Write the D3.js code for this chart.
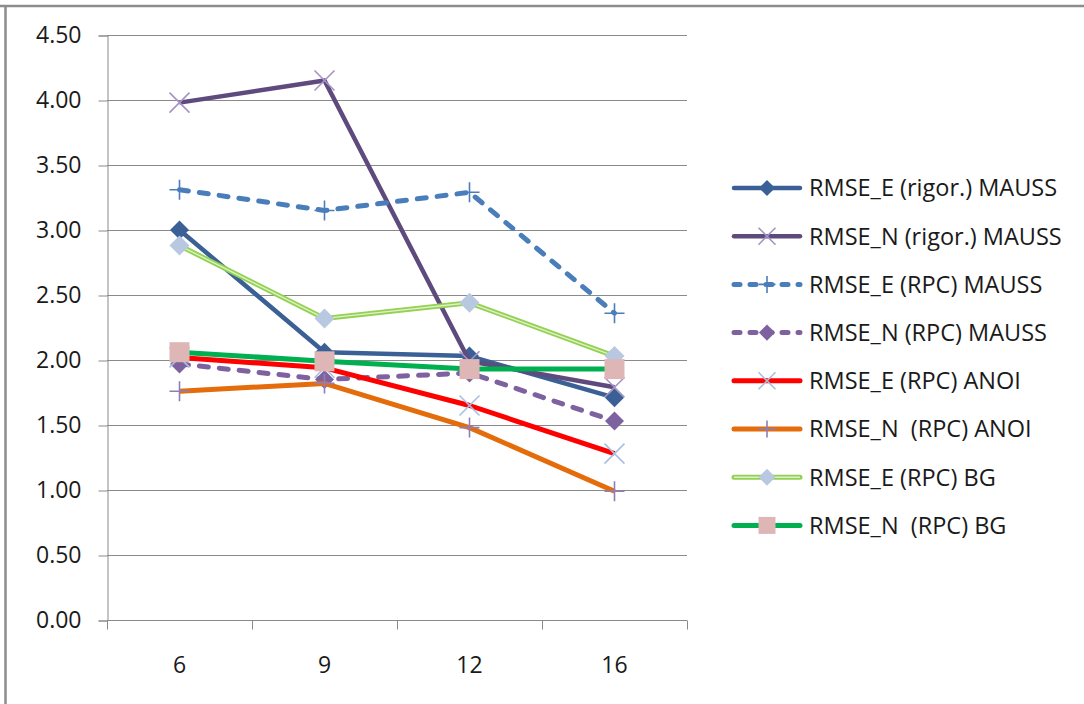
<!DOCTYPE html>
<html>
<head>
<meta charset="utf-8">
<script src="https://cdn.jsdelivr.net/npm/d3@7"></script>
<style>
  html, body { margin: 0; padding: 0; background: #fff; }
  svg text { font-family: "Open Sans", Lato, sans-serif; fill: #1a1a1a; white-space: pre; }
</style>
</head>
<body>
<svg id="chart" width="1084" height="704"></svg>
<script>
// Window sizes along the x axis
const categories = ["6", "9", "12", "16"];

// RMSE values per series
const rmseERigorMauss = [3.00, 2.06, 2.03, 1.71];
const rmseNRigorMauss = [3.98, 4.15, 1.99, 1.79];
const rmseERpcMauss   = [3.31, 3.15, 3.29, 2.36];
const rmseNRpcMauss   = [1.97, 1.85, 1.90, 1.53];
const rmseERpcAnoi    = [2.02, 1.94, 1.65, 1.28];
const rmseNRpcAnoi    = [1.76, 1.82, 1.48, 0.99];
const rmseERpcBg      = [2.88, 2.32, 2.44, 2.03];
const rmseNRpcBg      = [2.06, 1.99, 1.93, 1.93];

const seriesNames = [
  "RMSE_E (rigor.) MAUSS",
  "RMSE_N (rigor.) MAUSS",
  "RMSE_E (RPC) MAUSS",
  "RMSE_N (RPC) MAUSS",
  "RMSE_E (RPC) ANOI",
  "RMSE_N  (RPC) ANOI",
  "RMSE_E (RPC) BG",
  "RMSE_N  (RPC) BG"
];

const yTicks = [0, 0.5, 1, 1.5, 2, 2.5, 3, 3.5, 4, 4.5];

// Line and marker styling per series
const styles = [
  { color: "#3b6095", width: 4.5, dash: null, marker: "diamond", mColor: "#3b6095", mSize: 19 },
  { color: "#5f4a7d", width: 4.5, dash: null, marker: "x", mColor: "#a593c4", mSize: 20 },
  { color: "#4a7ebb", width: 5, dash: "9,11", marker: "plus", mColor: "#4a7ebb", mSize: 20 },
  { color: "#7e62a0", width: 5, dash: "9,11", marker: "diamond", mColor: "#7e62a0", mSize: 19 },
  { color: "#ff0000", width: 5, dash: null, marker: "x", mColor: "#a9bfe0", mSize: 20 },
  { color: "#e46c0a", width: 5, dash: null, marker: "plus", mColor: "#8f7db8", mSize: 20 },
  { color: "#93d152", width: 5, dash: null, double: true, marker: "diamond", mColor: "#b8c8e0", mSize: 20 },
  { color: "#00b050", width: 5, dash: null, marker: "square", mColor: "#ddb6b5", mSize: 20 }
];

const seriesValues = [
  rmseERigorMauss, rmseNRigorMauss, rmseERpcMauss, rmseNRpcMauss,
  rmseERpcAnoi, rmseNRpcAnoi, rmseERpcBg, rmseNRpcBg
];

const svg = d3.select("#chart");

// Frame edges of the chart area
svg.append("line").attr("x1", 0).attr("x2", 1084).attr("y1", 6).attr("y2", 6)
  .attr("stroke", "#8c8c8c").attr("stroke-width", 2.5);
svg.append("line").attr("x1", 5.5).attr("x2", 5.5).attr("y1", 5).attr("y2", 704)
  .attr("stroke", "#8c8c8c").attr("stroke-width", 2.5);

const plot = { left: 107, right: 687, top: 35, bottom: 620 };

const x = d3.scaleBand().domain(categories).range([plot.left, plot.right]);
const y = d3.scaleLinear().domain([0, 4.5]).range([plot.bottom, plot.top]);

// Horizontal gridlines
svg.append("g")
  .selectAll("line")
  .data(yTicks)
  .join("line")
  .attr("x1", plot.left).attr("x2", plot.right)
  .attr("y1", d => Math.round(y(d)) + 0.5).attr("y2", d => Math.round(y(d)) + 0.5)
  .attr("stroke", "#8a8a8a").attr("stroke-width", 1);

// Y axis
const yAxis = svg.append("g")
  .attr("transform", `translate(${plot.left + 0.5},0.5)`)
  .call(d3.axisLeft(y).tickValues(yTicks).tickFormat(d3.format(".2f")).tickSize(9).tickPadding(17));
yAxis.select(".domain").attr("stroke", "#8a8a8a");
yAxis.selectAll(".tick line").attr("stroke", "#8a8a8a");
yAxis.selectAll(".tick text").style("font-size", "23px").attr("fill", "#1a1a1a");

// X axis with ticks on band boundaries
const xAxisG = svg.append("g").attr("transform", `translate(0,${plot.bottom + 0.5})`);
xAxisG.append("line")
  .attr("x1", plot.left).attr("x2", plot.right).attr("y1", 0).attr("y2", 0)
  .attr("stroke", "#8a8a8a");
const boundaries = categories.map(c => x(c)).concat([x(categories[categories.length - 1]) + x.bandwidth()]);
xAxisG.selectAll("line.b")
  .data(boundaries)
  .join("line")
  .attr("class", "b")
  .attr("x1", d => Math.round(d) + 0.5).attr("x2", d => Math.round(d) + 0.5)
  .attr("y1", 0).attr("y2", 9)
  .attr("stroke", "#8a8a8a");
xAxisG.selectAll("text")
  .data(categories)
  .join("text")
  .attr("x", d => x(d) + x.bandwidth() / 2)
  .attr("y", 52)
  .attr("text-anchor", "middle")
  .style("font-size", "23px")
  .text(d => d);

const cx = d => x(d) + x.bandwidth() / 2;

function markerPath(type, s) {
  const h = s / 2;
  if (type === "diamond") return `M0,${-h}L${h},0L0,${h}L${-h},0Z`;
  if (type === "square") return `M${-h},${-h}H${h}V${h}H${-h}Z`;
  if (type === "x") return `M${-h},${-h}L${h},${h}M${-h},${h}L${h},${-h}`;
  if (type === "plus") return `M${-h},0H${h}M0,${-h}V${h}`;
  return "";
}

function drawMarker(g, st, px, py) {
  const filled = st.marker === "diamond" || st.marker === "square";
  g.append("path")
    .attr("transform", `translate(${px},${py})`)
    .attr("d", markerPath(st.marker, st.mSize))
    .attr("fill", filled ? st.mColor : "none")
    .attr("stroke", st.mColor)
    .attr("stroke-width", filled ? 0 : 1.6);
}

const line = d3.line().x((d, i) => cx(categories[i])).y(d => y(d));

// Series lines and markers, drawn in legend order
seriesValues.forEach((vals, k) => {
  const st = styles[k];
  const g = svg.append("g");
  const p = g.append("path")
    .datum(vals)
    .attr("d", line)
    .attr("fill", "none")
    .attr("stroke", st.color)
    .attr("stroke-width", st.width)
    .attr("stroke-linecap", st.dash ? "round" : "butt")
    .attr("stroke-linejoin", "round");
  if (st.dash) p.attr("stroke-dasharray", st.dash);
  if (st.double) {
    g.append("path").datum(vals).attr("d", line)
      .attr("fill", "none").attr("stroke", "#dff0c8").attr("stroke-width", 1.4)
      .attr("stroke-linejoin", "round");
  }
  vals.forEach((v, i) => drawMarker(g, st, cx(categories[i]), y(v)));
});

// Legend
const legend = svg.append("g");
const rowY0 = 188, rowStep = 48.2;
seriesNames.forEach((name, k) => {
  const st = styles[k];
  const ly = rowY0 + k * rowStep;
  const g = legend.append("g");
  const l = g.append("line")
    .attr("x1", 734).attr("x2", 800).attr("y1", ly).attr("y2", ly)
    .attr("stroke", st.color).attr("stroke-width", st.width)
    .attr("stroke-linecap", "round");
  if (st.dash) l.attr("stroke-dasharray", "6,10").attr("stroke-dashoffset", 0);
  if (st.double) {
    g.append("line").attr("x1", 734).attr("x2", 800).attr("y1", ly).attr("y2", ly)
      .attr("stroke", "#dff0c8").attr("stroke-width", 1.4);
  }
  drawMarker(g, Object.assign({}, st, { mSize: st.mSize * 0.85 }), 767, ly);
  g.append("text")
    .attr("x", 809).attr("y", ly)
    .attr("dy", "0.36em")
    .style("font-size", "23.5px")
    .text(name);
});
</script>
</body>
</html>
